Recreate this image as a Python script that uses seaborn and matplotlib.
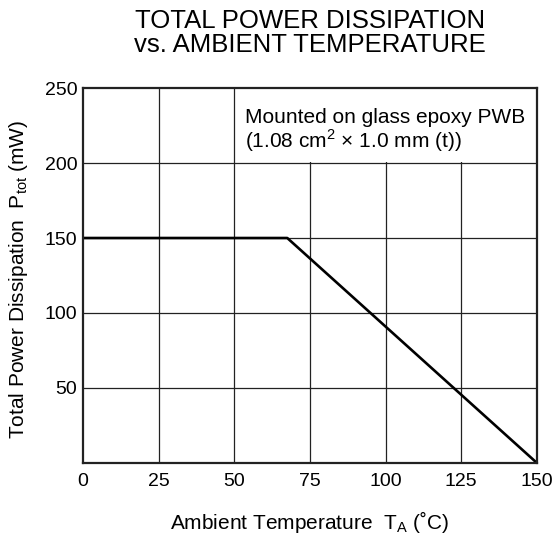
import matplotlib
matplotlib.use('Agg')
import matplotlib.pyplot as plt
import matplotlib.patches as mpatches
import pandas as pd
import seaborn as sns

# datos de la curva de disipacion
temperatura = [0, 67.5, 150]
potencia = [150, 150, 0]
xticks = [0, 25, 50, 75, 100, 125, 150]
yticks = [50, 100, 150, 200, 250]
ylabels_ticks = ['50', '100', '150', '200', '250']

sns.set_style('white')
plt.rcParams['font.family'] = ['Liberation Sans', 'DejaVu Sans']
plt.rcParams['mathtext.fontset'] = 'custom'
plt.rcParams['mathtext.rm'] = 'Liberation Sans'
plt.rcParams['text.color'] = 'black'
plt.rcParams['axes.labelcolor'] = 'black'
plt.rcParams['xtick.color'] = 'black'
plt.rcParams['ytick.color'] = 'black'

df = pd.DataFrame({'Ta': temperatura, 'Ptot': potencia})

fig = plt.figure(figsize=(5.55, 5.42), dpi=100)
ax = fig.add_axes([0.1495, 0.1458, 0.818, 0.6918])

sns.lineplot(data=df, x='Ta', y='Ptot', color='black', linewidth=1.9, ax=ax, zorder=4)

ax.set_xlim(0, 150)
ax.set_ylim(0, 250)
ax.set_xticks(xticks)
ax.set_yticks(yticks)
ax.set_yticklabels(ylabels_ticks)
ax.tick_params(length=0, labelsize=14)
ax.tick_params(axis='x', pad=7)
ax.tick_params(axis='y', pad=4)

# rejilla
for x in xticks[1:-1]:
    ax.axvline(x, color='#222222', linewidth=0.9, zorder=1)
for y in yticks[:-1]:
    ax.axhline(y, color='#222222', linewidth=0.9, zorder=1)

# fondo blanco detras del texto
ax.add_patch(mpatches.Rectangle((53, 200.8), 97, 49.2, facecolor='white',
                                edgecolor='none', zorder=2))
ax.text(53.5, 237, 'Mounted on glass epoxy PWB\n(1.08 cm$^{2}$ \u00d7 1.0 mm (t))',
        fontsize=15, va='top', ha='left', linespacing=1.05, zorder=3)

for s in ax.spines.values():
    s.set_visible(True)
    s.set_linewidth(1.6)
    s.set_color('#222222')
    s.set_zorder(5)

ax.set_xlabel('Ambient Temperature  T$_{\\rm A}$ (\u02daC)', fontsize=15)
ax.set_ylabel('Total Power Dissipation  P$_{\\rm tot}$ (mW)', fontsize=15)
ax.xaxis.set_label_coords(0.5, -0.122)
ax.yaxis.set_label_coords(-0.117, 0.49)
ax.set_title('TOTAL POWER DISSIPATION\nvs. AMBIENT TEMPERATURE', fontsize=18.5,
             pad=26, linespacing=1.0)

plt.savefig('out.png', dpi=100)
